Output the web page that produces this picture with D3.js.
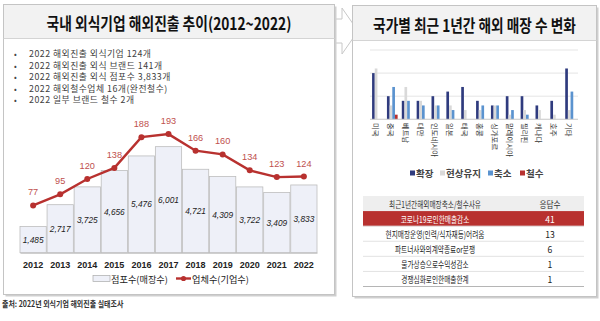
<!DOCTYPE html>
<html><head><meta charset="utf-8">
<script src="https://cdn.jsdelivr.net/npm/d3@7"></script>
<style>
html,body{margin:0;padding:0;background:#fff;}
svg{display:block;font-family:"Noto Sans CJK KR","Noto Sans",sans-serif;}
</style></head>
<body>
<svg id="c" width="600" height="321"></svg>
<script>
// ---------- DATA ----------
const years = ["2012","2013","2014","2015","2016","2017","2018","2019","2020","2021","2022"];
const stores = [1485,2717,3725,4656,5476,6001,4721,4309,3722,3409,3833];
const firms = [77,95,120,138,188,193,166,160,134,123,124];
const bullets = ["2022 해외진출 외식기업 124개","2022 해외진출 외식 브랜드 141개","2022 해외진출 외식 점포수 3,833개","2022 해외철수업체 16개(완전철수)","2022 일부 브랜드 철수 2개"];
const leftTitle = "국내 외식기업 해외진출 추이(2012~2022)";
const rightTitle = "국가별 최근 1년간 해외 매장 수 변화";
const source = "출처: 2022년 외식기업 해외진출 실태조사";
const legendLeft = ["점포수(매장수)","업체수(기업수)"];

const countries = ["미국","중국","베트남","대만","인도네시아","일본","태국","홍콩","싱가포르","말레이시아","필리핀","캐나다","호주","기타"];
const seriesNames = ["확장","현상유지","축소","철수"];
const expand   = [10,5,4,4,5,6,7,4,3,5,5,3,4,11];
const maintain = [11,3,7,4,3,3,2,2,3,1,2,2,1,2];
const shrink   = [0,7,4,3,3,2,0,3,3,2,1,0,0,6];
const withdraw = [0,1,0,0,0,0,0,0,0,0,0,0,0,0];

const tableHeader = ["최근1년간해외매장축소/철수사유","응답수"];
const reasons = ["코로나19로인한매출감소","현지매장운영(인력/식자재등)어려움","파트너사와의계약종료or분쟁","물가상승으로수익성감소","경쟁심화로인한매출한계"];
const responses = [41,13,6,1,1];

// ---------- DRAW ----------
const svg = d3.select("#c");
const RED = "#b8312f";

// horizontally condensed text: anchored at (x,y), scaled so that width == target (or by factor k)
function condensed(g, x, y, str, anchor, size, opts){
  const t = g.append("text").attr("x",0).attr("y",0).attr("text-anchor",anchor)
    .attr("dominant-baseline","central").attr("font-size",size).text(str);
  Object.entries(opts.attrs||{}).forEach(([k,v])=>t.attr(k,v));
  let k = opts.k;
  if (opts.width){ const w = t.node().getComputedTextLength(); k = opts.width / w; }
  t.attr("transform",`translate(${x},${y}) scale(${k},1)`);
  return t;
}

// arrow between panels
svg.append("polygon")
  .attr("points","318,19 342,19 342,8 358,31 342,54 342,43 318,43")
  .attr("fill","#fff").attr("stroke","#c8c8c8").attr("stroke-width",1);

function panel(x,y,w,h,titleH,title,tlen){
  svg.append("rect").attr("x",x+2).attr("y",y+2).attr("width",w).attr("height",h).attr("fill","#cfcfcf");
  svg.append("rect").attr("x",x).attr("y",y).attr("width",w).attr("height",h).attr("fill","#fff").attr("stroke","#c4c4c4");
  svg.append("rect").attr("x",x+0.5).attr("y",y+0.5).attr("width",w-1).attr("height",titleH).attr("fill","#f2f2f2");
  svg.append("line").attr("x1",x).attr("x2",x+w).attr("y1",y+titleH).attr("y2",y+titleH).attr("stroke","#d4d4d4");
  condensed(svg, x+w/2, y+titleH/2+1, title, "middle", 16.5,
    {width:tlen, attrs:{"font-weight":"bold","fill":"#111"}});
}
panel(3.5,4.5,331,290,34,leftTitle,245);
panel(352.5,5.5,244,291,35,rightTitle,203);

// bullets
const gb = svg.append("g");
bullets.forEach((b,i)=>{
  const y = 53.5 + i*11.6;
  gb.append("text").attr("x",14).attr("y",y).attr("dominant-baseline","central").attr("font-size",8).attr("fill","#444").text("•");
  gb.append("text").attr("x",29).attr("y",y).attr("dominant-baseline","central").attr("font-size",8.8)
    .attr("letter-spacing","0.5px").attr("fill","#404040").text(b);
});

// left combo chart
const xL = d3.scaleBand().domain(years).range([20,317]).paddingInner(0.03).paddingOuter(0);
const yBar = d3.scaleLinear().domain([0,7000]).range([252.7,129]);
const yLine = d3.scaleLinear().domain([0,200]).range([252.7,129.8]);

svg.append("g").selectAll("rect").data(stores).join("rect")
  .attr("x",(d,i)=>xL(years[i])).attr("width",xL.bandwidth())
  .attr("y",d=>yBar(d)).attr("height",d=>yBar(0)-yBar(d))
  .attr("fill","#eef0f8").attr("stroke","#bdbdbd").attr("stroke-width",0.8);

svg.append("g").selectAll("text").data(stores).join("text")
  .attr("x",(d,i)=>xL(years[i])+xL.bandwidth()/2)
  .attr("y",d=>(yBar(d)+yBar(0))/2).attr("text-anchor","middle").attr("dominant-baseline","central")
  .attr("font-size",8.3).attr("font-style","italic").attr("fill","#222")
  .attr("font-family","'Liberation Sans',sans-serif")
  .text(d=>d3.format(",")(d));

const axisL = d3.axisBottom(xL).tickSize(0).tickPadding(9);
const ax = svg.append("g").attr("transform","translate(0,252.7)").call(axisL);
ax.select(".domain").attr("stroke","#bdbdbd");
ax.selectAll("text").attr("font-size",9).attr("fill","#222").attr("font-weight","bold")
  .attr("font-family","'Liberation Sans',sans-serif");

const cx = (d,i)=>xL(years[i])+xL.bandwidth()/2;
svg.append("path").datum(firms)
  .attr("d",d3.line().x(cx).y(d=>yLine(d)))
  .attr("fill","none").attr("stroke",RED).attr("stroke-width",2.4);
svg.append("g").selectAll("circle").data(firms).join("circle")
  .attr("cx",cx).attr("cy",d=>yLine(d)).attr("r",3).attr("fill",RED);
svg.append("g").selectAll("text").data(firms).join("text")
  .attr("x",cx).attr("y",d=>yLine(d)-13).attr("text-anchor","middle").attr("dominant-baseline","central")
  .attr("font-size",9.2).attr("fill","#c0504d").attr("font-family","'Liberation Sans',sans-serif")
  .text(d=>d);

// left legend
svg.append("rect").attr("x",93).attr("y",275.5).attr("width",17).attr("height",6).attr("fill","#eef0f8").attr("stroke","#aaa").attr("stroke-width",0.7);
svg.append("text").attr("x",111).attr("y",278.5).attr("dominant-baseline","central").attr("font-size",9.2).attr("fill","#222").text(legendLeft[0]);
svg.append("line").attr("x1",176).attr("x2",191).attr("y1",278.5).attr("y2",278.5).attr("stroke",RED).attr("stroke-width",2.4);
svg.append("circle").attr("cx",183.5).attr("cy",278.5).attr("r",2.6).attr("fill",RED);
svg.append("text").attr("x",192).attr("y",278.5).attr("dominant-baseline","central").attr("font-size",9.2).attr("fill","#222").text(legendLeft[1]);

// source
condensed(svg, 2, 303, source, "start", 8.4, {width:121, attrs:{"font-weight":"bold","fill":"#333"}});

// right grouped bar chart
const x0 = d3.scaleBand().domain(countries).range([370,578]).paddingInner(0.28).paddingOuter(0.14);
const x1 = d3.scaleBand().domain(seriesNames).range([0,x0.bandwidth()]);
const yR = d3.scaleLinear().domain([0,15]).range([119.3,50]);
const colors = {"확장":"#2f3b7e","현상유지":"#d9d9d9","축소":"#5b93cf","철수":"#b8312f"};
const seriesVals = [expand,maintain,shrink,withdraw];

svg.append("g").selectAll("line").data(yR.ticks(3)).join("line")
  .attr("x1",370).attr("x2",578).attr("y1",d=>yR(d)).attr("y2",d=>yR(d))
  .attr("stroke","#dedede").attr("stroke-width",0.8);

const gR = svg.append("g");
seriesNames.forEach((s,si)=>{
  gR.append("g").selectAll("rect").data(seriesVals[si]).join("rect")
    .attr("x",(d,i)=>x0(countries[i])+x1(s)).attr("width",x1.bandwidth())
    .attr("y",d=>yR(d)).attr("height",d=>yR(0)-yR(d)).attr("fill",colors[s]);
});
svg.append("line").attr("x1",370).attr("x2",578).attr("y1",yR(0)).attr("y2",yR(0)).attr("stroke","#d0d0d0");

svg.append("g").selectAll("text").data(countries).join("text")
  .attr("transform",d=>`translate(${x0(d)+x0.bandwidth()/2-1},123) rotate(90)`)
  .attr("dominant-baseline","central").attr("font-size",7.4).attr("fill","#333").text(d=>d);

// right legend
const legX = [410,440,488,520];
seriesNames.forEach((s,i)=>{
  svg.append("rect").attr("x",legX[i]).attr("y",170.5).attr("width",5).attr("height",5).attr("fill",colors[s]);
  svg.append("text").attr("x",legX[i]+6).attr("y",173.3).attr("dominant-baseline","central")
    .attr("font-size",9.5).attr("font-weight","bold").attr("fill","#444").text(s);
});

// table
const tX0 = 363, tX1 = 584, tDiv = 515;
const rowsY = d3.scaleBand().domain(d3.range(reasons.length+1)).range([196,286.5]);
svg.append("rect").attr("x",tX0).attr("y",rowsY(0)).attr("width",tX1-tX0).attr("height",rowsY.bandwidth()).attr("fill","#eeeeee");
svg.append("rect").attr("x",tX0).attr("y",rowsY(1)).attr("width",tX1-tX0).attr("height",rowsY.bandwidth()).attr("fill",RED);
d3.range(2,reasons.length+1).forEach(i=>{
  svg.append("line").attr("x1",tX0).attr("x2",tX1).attr("y1",rowsY(i)).attr("y2",rowsY(i)).attr("stroke","#e2e2e2");
});
svg.append("line").attr("x1",tX0).attr("x2",tX1).attr("y1",286.5).attr("y2",286.5).attr("stroke","#b5b5b5").attr("stroke-width",1.2);

const colX = (tX0+tDiv)/2-4;
condensed(svg, colX, rowsY(0)+rowsY.bandwidth()/2, tableHeader[0], "middle", 9, {k:0.74, attrs:{"fill":"#333"}});
condensed(svg, 550, rowsY(0)+rowsY.bandwidth()/2, tableHeader[1], "middle", 9, {k:0.85, attrs:{"fill":"#333"}});
reasons.forEach((r,i)=>{
  const y = rowsY(i+1)+rowsY.bandwidth()/2;
  const c = i===0 ? "#fff" : "#222";
  condensed(svg, colX, y, r, "middle", 9, {k:0.74, attrs:{"fill":c}});
  svg.append("text").attr("x",550).attr("y",y).attr("text-anchor","middle").attr("dominant-baseline","central")
    .attr("font-size",8.6).attr("fill",c).text(responses[i]);
});
</script>
</body></html>
